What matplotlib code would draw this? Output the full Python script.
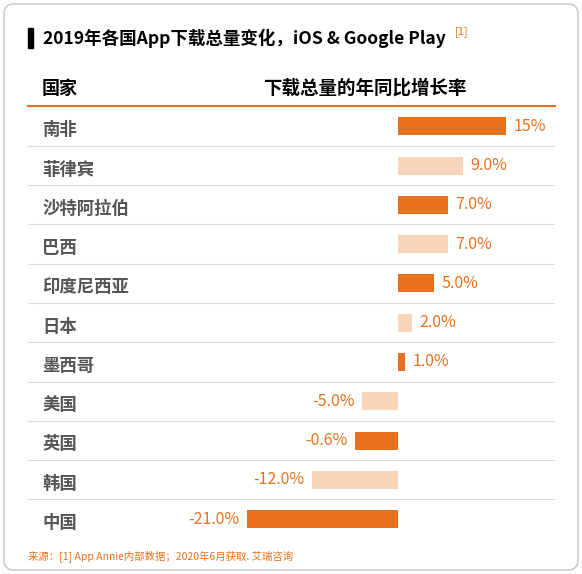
import matplotlib.pyplot as plt
from matplotlib.patches import FancyBboxPatch, Rectangle
import matplotlib.transforms as mtransforms

plt.rcParams['font.family'] = ['Noto Sans CJK SC', 'DejaVu Sans']

countries = ['南非', '菲律宾', '沙特阿拉伯', '巴西', '印度尼西亚', '日本', '墨西哥', '美国', '英国', '韩国', '中国']
growth = [15, 9.0, 7.0, 7.0, 5.0, 2.0, 1.0, -5.0, -6.0, -12.0, -21.0]
labels = ['15%', '9.0%', '7.0%', '7.0%', '5.0%', '2.0%', '1.0%', '-5.0%', '-0.6%', '-12.0%', '-21.0%']
dark = '#E8711E'
light = '#F8D5B8'
colors = [dark, light, dark, light, dark, light, dark, light, dark, light, dark]

W, H = 582, 574
fig = plt.figure(figsize=(W / 100, H / 100), dpi=100)

# background frame
bg = fig.add_axes([0, 0, 1, 1])
bg.set_xlim(0, W)
bg.set_ylim(H, 0)
bg.axis('off')
bg.add_patch(FancyBboxPatch((4, 4), W - 8, H - 8, boxstyle='round,pad=0,rounding_size=10',
                            fc='white', ec='#cccccc', lw=1.2))
bg.add_patch(Rectangle((28, 28), 5, 20, color='black'))
bg.text(43, 38, '2019年各国App下载总量变化，iOS & Google Play', fontsize=12.6, fontweight='bold',
        va='center', ha='left')
bg.text(455, 32, '[1]', fontsize=8, color=dark, va='center')
bg.text(42, 88, '国家', fontsize=13, fontweight='bold', va='center')
bg.text(365, 88, '下载总量的年同比增长率', fontsize=13.3, fontweight='bold', va='center', ha='center')
bg.plot([28, 555], [106, 106], color=dark, lw=1.5)
bg.text(28, 557, '来源：[1] App Annie内部数据；2020年6月获取. 艾瑞咨询', fontsize=7.5, color=dark, va='center')

# bar axes
x0, x1, y0, y1 = 28, 555, 107, 538
ax = fig.add_axes([x0 / W, 1 - y1 / H, (x1 - x0) / W, (y1 - y0) / H])
ax.set_xlim(-51.4, 21.8)
ax.set_ylim(10.48, -0.49)
ax.axis('off')
n = len(countries)
ax.barh(range(n), growth, height=0.46, color=colors)
for i in range(n - 1):
    ax.axhline(i + 0.5, color='#dddddd', lw=0.8)
tr = mtransforms.blended_transform_factory(ax.transAxes, ax.transData)
for i, (c, g, lab) in enumerate(zip(countries, growth, labels)):
    ax.text(0.027, i + 0.1, c, transform=tr, fontsize=12.5, fontweight='bold', color='#555555', va='center')
    if g >= 0:
        ax.text(g + 1.0, i, lab, fontsize=11.5, color=dark, va='center', ha='left')
    else:
        ax.text(g - 1.0, i, lab, fontsize=11.5, color=dark, va='center', ha='right')

fig.savefig('out.png', dpi=100)
